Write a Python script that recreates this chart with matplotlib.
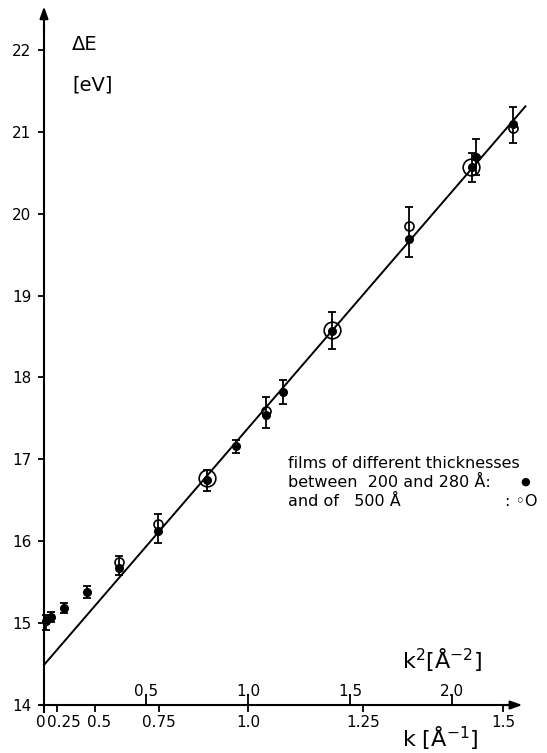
import matplotlib
matplotlib.use('Agg')
import matplotlib.pyplot as plt
import matplotlib.transforms as mtransforms
import numpy as np

plt.rcParams['font.family'] = ['DejaVu Sans']
plt.rcParams['mathtext.fontset'] = 'dejavusans'

# films of 200-280 A (filled dots), with error bar ends
k2_thin = [0.01, 0.035, 0.10, 0.21, 0.37, 0.56, 0.80, 0.94, 1.09, 1.17, 1.41, 1.79, 2.10, 2.12, 2.30]
dE_thin = [15.02, 15.07, 15.18, 15.38, 15.67, 16.12, 16.75, 17.16, 17.54, 17.82, 18.57, 19.69, 20.57, 20.69, 21.09]
lo_thin = [14.92, 15.01, 15.12, 15.31, 15.59, 15.98, 16.61, 17.08, 17.38, 17.68, 18.35, 19.47, 20.39, 20.47, 20.86]
hi_thin = [15.10, 15.13, 15.24, 15.45, 15.82, 16.33, 16.87, 17.24, 17.76, 17.97, 18.80, 20.08, 20.74, 20.91, 21.30]

# films of 500 A: small and large open circles
k2_500 = [0.37, 0.56, 1.09, 1.79, 2.30]
dE_500 = [15.75, 16.21, 17.59, 19.85, 21.05]
k2_500_big = [0.80, 1.41, 2.095]
dE_500_big = [16.77, 18.58, 20.57]

# straight line drawn through the data
fit_k2 = [0.0, 2.36]
fit_dE = [14.49, 21.31]

y_ticks = [14, 15, 16, 17, 18, 19, 20, 21, 22]
k2_ticks = [0.5, 1.0, 1.5, 2.0]
k2_labels = ['0.5', '1.0', '1.5', '2.0']
k_ticks = [0, 0.25, 0.5, 0.75, 1.0, 1.25, 1.5]
k_labels = ['0', '0.25', '0.5', '0.75', '1.0', '1.25', '1.5']

W, H = 547, 753
fig = plt.figure(figsize=(W / 100, H / 100), dpi=100)
xlo, xhi = -0.2, 2.45
ylo, yhi = 13.7, 22.6
ax = fig.add_axes([3.2 / W, (H - 729.6) / H, 540.6 / W, 728.9 / H])
ax.set_xlim(xlo, xhi)
ax.set_ylim(ylo, yhi)

for s in ['top', 'right']:
    ax.spines[s].set_visible(False)
ax.spines['left'].set_position(('data', 0))
ax.spines['bottom'].set_position(('data', 14))
ax.spines['left'].set_bounds(13.92, 22.3)
ax.spines['bottom'].set_bounds(-0.015, 2.28)
for s in ['left', 'bottom']:
    ax.spines[s].set_linewidth(1.5)

# arrow heads
ax.annotate('', xy=(0, 22.53), xytext=(0, 22.2),
            arrowprops=dict(arrowstyle='-|>,head_length=0.7,head_width=0.25', color='k', lw=1.5,
                            shrinkA=0, shrinkB=0), annotation_clip=False)
ax.annotate('', xy=(2.345, 14), xytext=(2.25, 14),
            arrowprops=dict(arrowstyle='-|>,head_length=0.7,head_width=0.25', color='k', lw=1.5,
                            shrinkA=0, shrinkB=0), annotation_clip=False)

ax.set_yticks(y_ticks)
ax.tick_params(axis='y', direction='out', length=4, width=1.3, pad=5, labelsize=11)

# k^2 ticks point up, labels above the axis
ax.set_xticks(k2_ticks, labels=k2_labels)
ax.tick_params(axis='x', direction='in', length=8, width=1.3, pad=-15.5, labelsize=11)


def k_of_k2(x):
    x = np.asarray(x, dtype=float)
    return np.sign(x) * np.sqrt(np.abs(x))


def k2_of_k(k):
    k = np.asarray(k, dtype=float)
    return np.sign(k) * k ** 2


# k ticks point down
sec = ax.secondary_xaxis((14 - ylo) / (yhi - ylo), functions=(k_of_k2, k2_of_k))
sec.spines['bottom'].set_visible(False)
sec.set_xticks(k_ticks, labels=k_labels)
sec.tick_params(direction='out', length=5, width=1.3, pad=2, labelsize=11)

# the crowded labels near 0 sit a bit apart in the original
nudge = {0: -3, 1: 7, 2: 4}
for i, tick in enumerate(sec.xaxis.get_major_ticks()):
    if i in nudge:
        off = mtransforms.ScaledTranslation(nudge[i] / 100, 0, fig.dpi_scale_trans)
        tick.label1.set_transform(tick.label1.get_transform() + off)

ax.plot(fit_k2, fit_dE, color='k', lw=1.4)

yerr = [np.array(dE_thin) - np.array(lo_thin), np.array(hi_thin) - np.array(dE_thin)]
ax.errorbar(k2_thin, dE_thin, yerr=yerr, fmt='o', color='k', ms=5.5,
            capsize=3, elinewidth=1.3, capthick=1.3, zorder=3)
ax.plot(k2_500, dE_500, 'o', mfc='none', mec='k', ms=6.5, mew=1.2, zorder=4)
ax.plot(k2_500_big, dE_500_big, 'o', mfc='none', mec='k', ms=12, mew=1.2, zorder=4)


def fpos(px, py):
    return px / W, 1 - py / H


fig.text(*fpos(72, 45), 'ΔE', fontsize=14, va='center', ha='left')
fig.text(*fpos(72, 85), '[eV]', fontsize=14, va='center', ha='left')
fig.text(*fpos(402, 660), 'k$^2$[Å$^{-2}$]', fontsize=16, va='center', ha='left')
fig.text(*fpos(402, 738), 'k [Å$^{-1}$]', fontsize=16, va='center', ha='left')

fs = 11.5
fig.text(*fpos(288, 463), 'films of different thicknesses', fontsize=fs, va='center', ha='left')
fig.text(*fpos(288, 482), 'between  200 and 280 Å:', fontsize=fs, va='center', ha='left')
fig.text(*fpos(520, 482), '●', fontsize=8, va='center', ha='left')
fig.text(*fpos(288, 501), 'and of   500 Å', fontsize=fs, va='center', ha='left')
fig.text(*fpos(505, 501), ': ◦O', fontsize=fs, va='center', ha='left')

fig.savefig('out.png', dpi=100)
